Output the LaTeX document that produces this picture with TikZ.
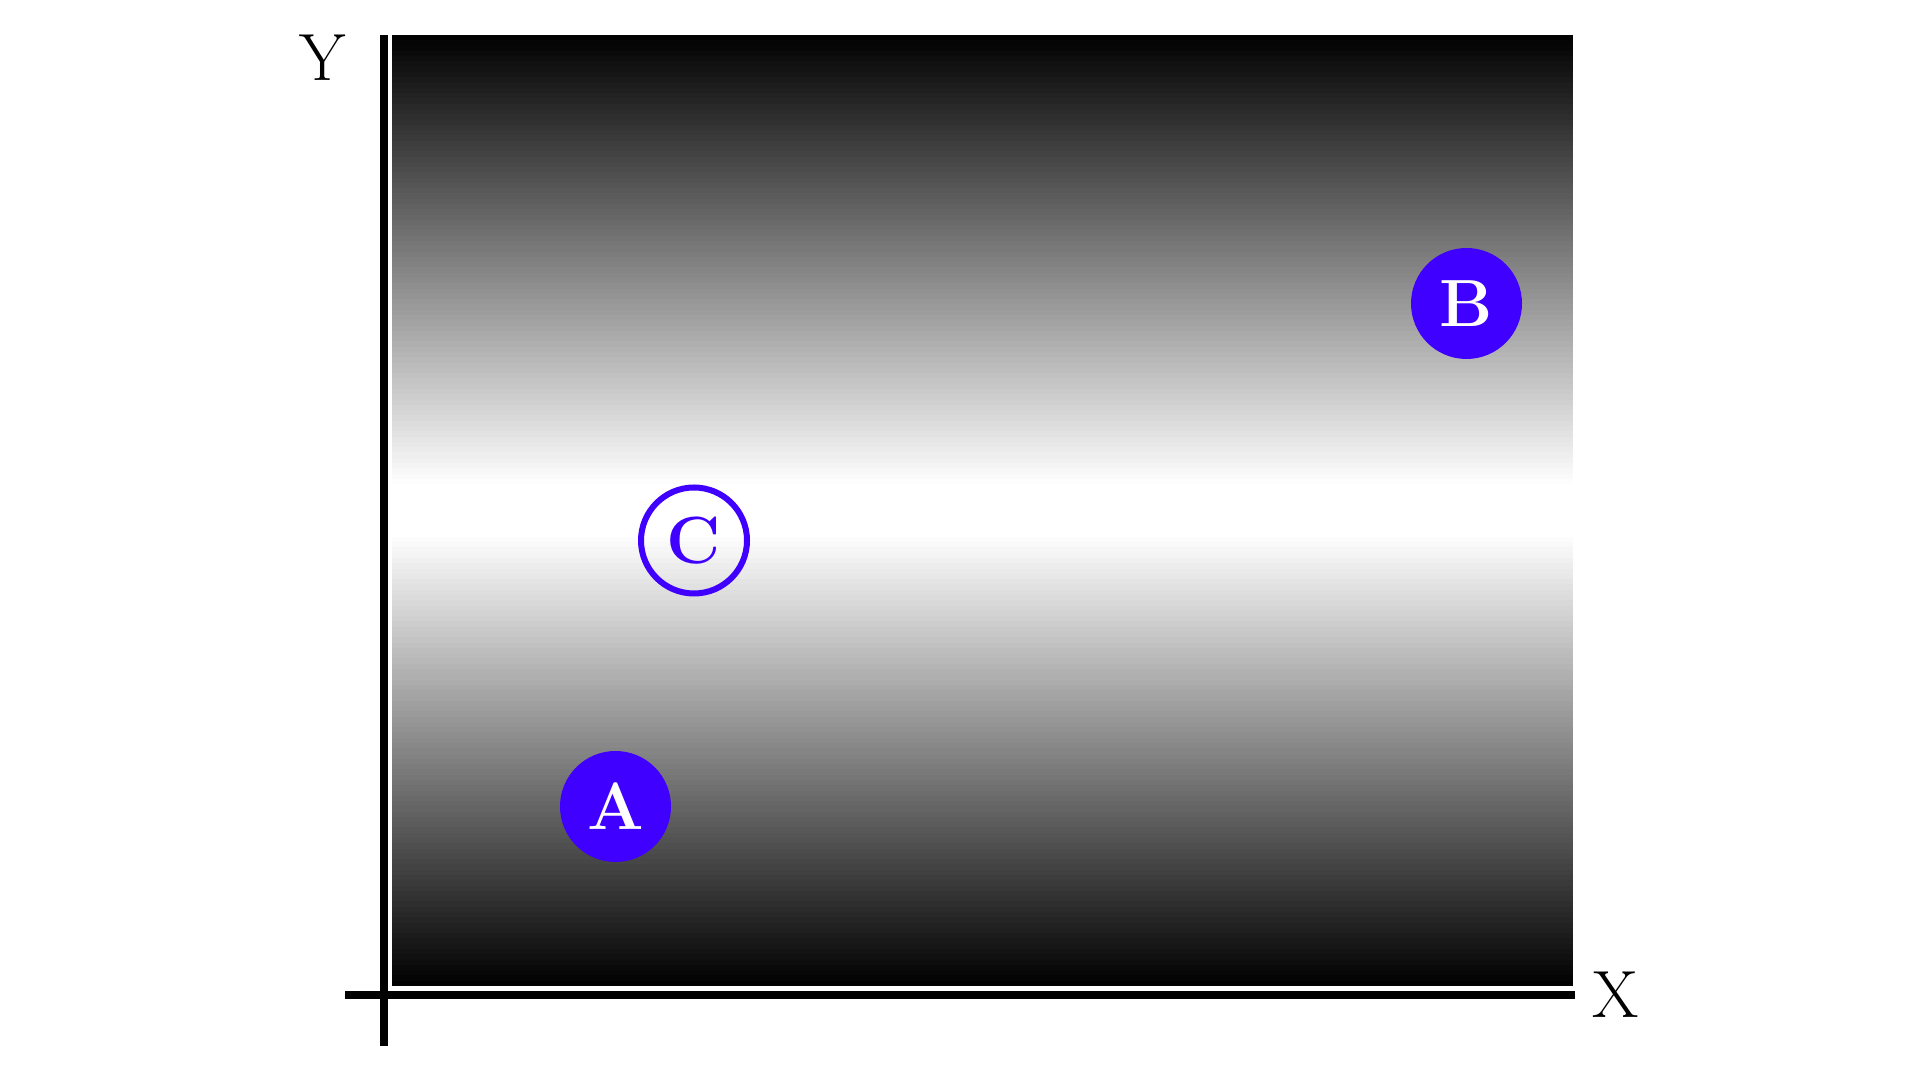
\documentclass[tikz,border=0pt]{standalone}
\usepackage{tikz}
\usetikzlibrary{positioning,calc}
\definecolor{ptblue}{RGB}{64,0,255}
\tikzset{
  axis/.style  ={line width=0.08cm},
  axlbl/.style ={font=\fontsize{19}{23}\selectfont,inner sep=0pt},
  pt/.style    ={circle,fill=ptblue,minimum size=1.11cm,inner sep=0pt,
                 text=white,font=\fontsize{19}{23}\selectfont\bfseries},
  hollow/.style={circle,draw=ptblue,line width=0.06cm,minimum size=1.06cm,inner sep=0pt,
                 text=ptblue,font=\fontsize{19}{23}\selectfont\bfseries},
}
\begin{document}
\begin{tikzpicture}
  \useasboundingbox (0,0) rectangle (19.2,10.8);
  % field: black -> white band -> black, in thin strips
  \foreach \i in {0,...,179}{
    \pgfmathsetmacro\ylo{0.94+\i*9.51/180}
    \pgfmathsetmacro\yhi{min(\ylo+9.51/180+0.006,10.45)}
    \pgfmathsetmacro\p{min(100,100*max(0,abs(\ylo+9.51/360-5.70)-0.25)/4.5)}
    \fill[black!\p!white] (3.92,\ylo) rectangle (15.73,\yhi);
  }
  % axes
  \coordinate (ytop) at (3.84,10.45); \coordinate (ybot) at (3.84,0.34);
  \coordinate (xl) at (3.45,0.85);    \coordinate (xr) at (15.75,0.85);
  \draw[axis] (ybot) -- (ytop);
  \draw[axis] (xl) -- (xr);
  \node[axlbl] (Y) at (3.23,10.22){Y};
  \node[axlbl] (X) at (16.16,0.85){X};
  % points
  \node[pt] (A) at (6.155,2.735){A};
  \node[pt] (B) at (14.665,7.765){B};
  \node[hollow] (C) at (6.94,5.395){C};
\end{tikzpicture}
\end{document}
